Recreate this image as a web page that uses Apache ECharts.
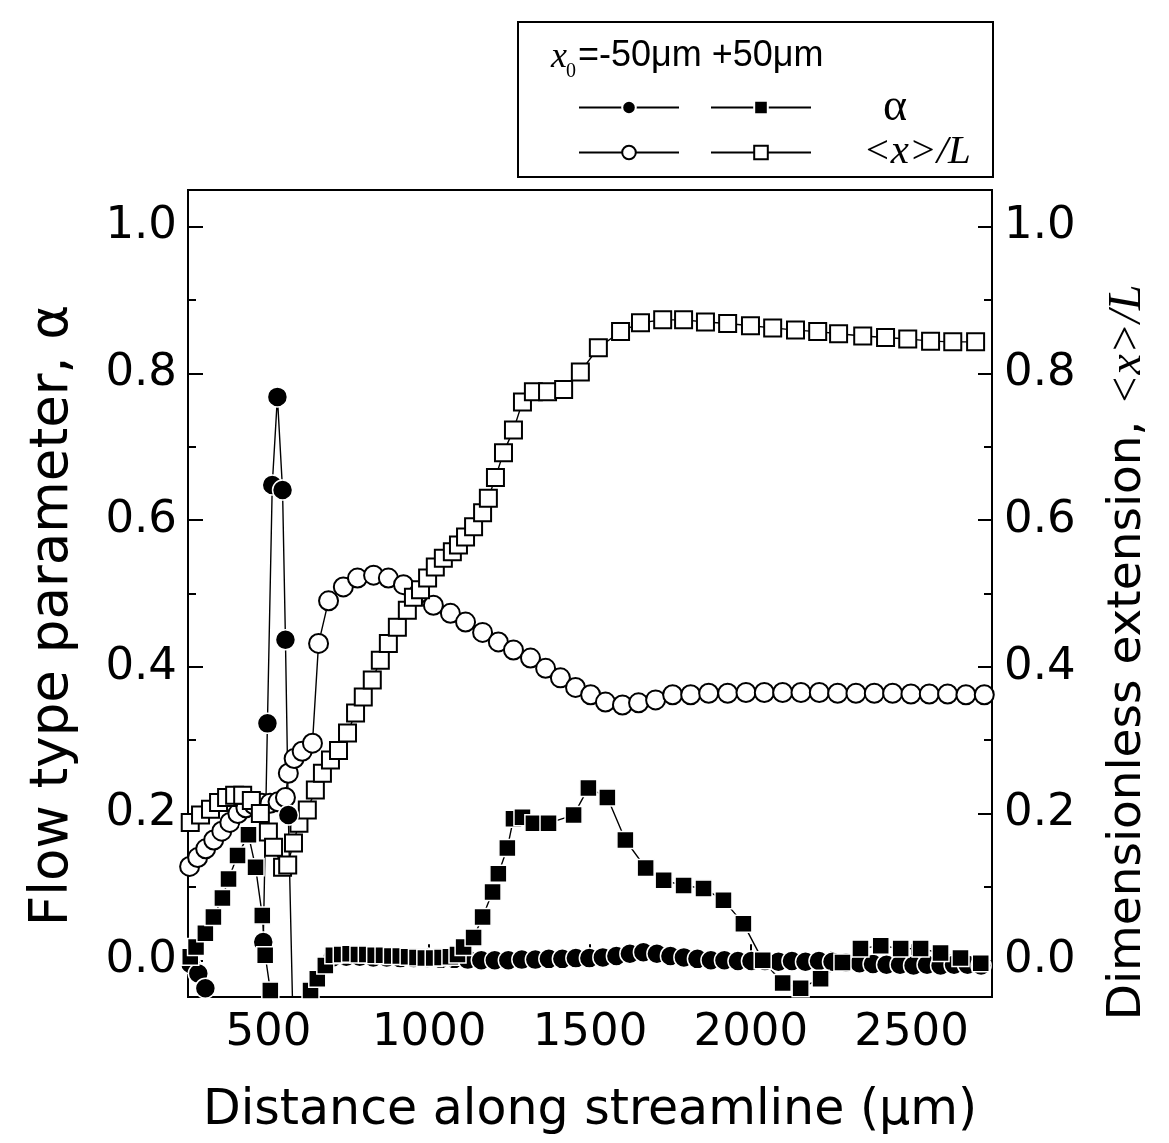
<!DOCTYPE html>
<html><head><meta charset="utf-8">
<script src="https://cdn.jsdelivr.net/npm/echarts@6/dist/echarts.min.js"></script>
<style>html,body{margin:0;padding:0;background:#fff}#c{width:1169px;height:1143px}</style>
</head><body><div id="c"></div>
<script>
// ---- tick positions ----
const xTicksMajor = [500, 1000, 1500, 2000, 2500];
const xTicksMinor = [750, 1250, 1750, 2250];
const yTicksMajor = [0, 0.2, 0.4, 0.6, 0.8, 1.0];
const yTicksMinor = [0.1, 0.3, 0.5, 0.7, 0.9];

// ---- x0 = -50 um, alpha (filled circles) ----
const fcX = [258, 282, 304, 400, 484, 497, 512, 528, 544, 553, 562, 590, 650,
  700, 742, 784, 826, 868, 910, 952, 994, 1036, 1078, 1120, 1162, 1204, 1246, 1288, 1330, 1372, 1414, 1456, 1498,
  1540, 1582, 1624, 1666, 1708, 1750, 1792, 1834, 1876, 1918, 1960, 2002, 2044, 2086, 2128, 2170, 2212, 2254,
  2296, 2338, 2380, 2422, 2464, 2506, 2548, 2590, 2632, 2674, 2716];
const fcY = [-0.005, -0.018, -0.038, null, 0.025, 0.323, 0.648, 0.768, 0.641, 0.437, 0.198, -0.35, null,
  0.004, 0.005, 0.005, 0.004, 0.004, 0.003, 0.003, 0.003, 0.002, 0.002, 0.001, 0.0, 0.0, 0.0, 0.001, 0.001, 0.002, 0.002, 0.003, 0.003,
  0.004, 0.006, 0.009, 0.011, 0.009, 0.006, 0.004, 0.002, 0.0, 0.0, -0.001, -0.001, -0.001, -0.002, -0.001, -0.002, -0.001, -0.002,
  -0.003, -0.004, -0.005, -0.006, -0.006, -0.007, -0.006, -0.007, -0.006, -0.006, -0.007];

// ---- x0 = +50 um, alpha (filled squares) ----
const fsX = [257, 275, 304, 329, 357, 376, 404, 438, 460, 481, 490, 506, 560,
  631, 652, 677, 702, 728, 754, 780, 806, 832, 858, 884, 910, 936, 962, 988, 1014, 1040, 1066, 1088,
  1107, 1138, 1166, 1197, 1215, 1243, 1262, 1290, 1324, 1371, 1449, 1495, 1554, 1610, 1673, 1729, 1791,
  1853, 1915, 1977, 2037, 2099, 2155, 2217, 2285, 2341, 2404, 2466, 2528, 2590, 2652, 2715];
const fsY = [0.005, 0.018, 0.037, 0.059, 0.085, 0.111, 0.143, 0.171, 0.127, 0.061, 0.007, -0.041, null,
  -0.041, -0.025, -0.007, 0.007, 0.008, 0.009, 0.008, 0.008, 0.007, 0.007, 0.006, 0.006, 0.005, 0.004, 0.003, 0.003, 0.004, 0.005, 0.008,
  0.018, 0.031, 0.059, 0.093, 0.118, 0.153, 0.193, 0.195, 0.187, 0.187, 0.198, 0.235, 0.222, 0.164, 0.126, 0.109, 0.102,
  0.098, 0.082, 0.050, 0.0, -0.031, -0.038, -0.025, -0.003, 0.016, 0.020, 0.016, 0.016, 0.010, 0.003, -0.004];

// ---- x0 = -50 um, <x>/L (open circles) ----
const ocX = [255, 280, 305, 330, 355, 380, 405, 430, 455, 480, 505, 530, 553, 562, 580, 605, 637, 656, 687, 733,
  777, 827, 873, 920, 967, 1013, 1066, 1113, 1166, 1215, 1262, 1315, 1362, 1408, 1455, 1502, 1548, 1601, 1651, 1704,
  1757, 1813, 1869, 1928, 1985, 2042, 2099, 2156, 2213, 2270, 2327, 2384, 2441, 2498, 2555, 2612, 2669, 2726];
const ocY = [0.128, 0.14, 0.152, 0.164, 0.176, 0.188, 0.2, 0.208, 0.212, 0.214, 0.214, 0.216, 0.222, 0.255, 0.275, 0.285, 0.296, 0.432, 0.49, 0.509,
  0.521, 0.525, 0.521, 0.512, 0.5, 0.484, 0.473, 0.461, 0.447, 0.434, 0.423, 0.412, 0.398, 0.385, 0.372, 0.362, 0.352, 0.348, 0.351, 0.355,
  0.362, 0.362, 0.364, 0.364, 0.365, 0.365, 0.365, 0.365, 0.365, 0.364, 0.364, 0.364, 0.364, 0.363, 0.363, 0.363, 0.362, 0.362];

// ---- x0 = +50 um, <x>/L (open squares) ----
const osX = [257, 289, 320, 345, 370, 395, 420, 447, 475, 500, 516, 544, 560, 578, 595, 621, 646, 668, 693, 718,
  746, 771, 795, 823, 848, 873, 901, 932, 951, 973, 995, 1019, 1044, 1072, 1091, 1113, 1138, 1166, 1184, 1206,
  1231, 1262, 1290, 1324, 1368, 1418, 1470, 1526, 1595, 1657, 1726, 1791, 1859, 1928, 1999, 2068, 2139, 2208, 2273, 2348,
  2419, 2488, 2559, 2628, 2699];
const osY = [0.188, 0.198, 0.206, 0.215, 0.222, 0.225, 0.225, 0.218, 0.2, 0.175, 0.154, 0.127, 0.13, 0.16, 0.187, 0.205, 0.232, 0.255, 0.273, 0.286,
  0.31, 0.337, 0.359, 0.382, 0.409, 0.432, 0.454, 0.477, 0.495, 0.505, 0.521, 0.536, 0.548, 0.557, 0.566, 0.577, 0.591, 0.61, 0.63, 0.658,
  0.692, 0.723, 0.761, 0.775, 0.775, 0.778, 0.802, 0.835, 0.857, 0.869, 0.873, 0.873, 0.870, 0.868, 0.865, 0.862, 0.859, 0.857, 0.854, 0.851,
  0.849, 0.847, 0.844, 0.843, 0.843];

const zip = (xs, ys) => xs.map((x, i) => [x, ys[i]]);

const BLACK = '#000';
const tickStyle = { color: BLACK, width: 2 };
const labelFont = { color: BLACK, fontSize: 45, fontFamily: 'DejaVu Sans' };

const chart = echarts.init(document.getElementById('c'), null, { renderer: 'canvas' });

const lineSeries = (name, xs, ys, symbol, size, filled, yAxisIndex) => ({
  name, type: 'line', xAxisIndex: 0, yAxisIndex,
  data: zip(xs, ys),
  symbol, symbolSize: size, showSymbol: true, showAllSymbol: true,
  connectNulls: false, animation: false, clip: true,
  lineStyle: { color: BLACK, width: 1.4 },
  itemStyle: filled
    ? { color: BLACK, borderColor: '#fff', borderWidth: 1.5 }
    : { color: '#fff', borderColor: BLACK, borderWidth: 2 },
  emphasis: { disabled: true }
});

const option = {
  backgroundColor: '#fff',
  animation: false,
  grid: { left: 188, right: 177, top: 190, bottom: 146, show: true, borderColor: BLACK, borderWidth: 2,
          containLabel: false, outerBoundsMode: 'none' },
  xAxis: [
    { type: 'value', min: 250, max: 2750, position: 'bottom',
      axisLine: { show: false }, splitLine: { show: false },
      axisTick: { inside: true, length: 16, lineStyle: tickStyle, customValues: xTicksMajor },
      axisLabel: Object.assign({ customValues: xTicksMajor, margin: 14, formatter: v => String(v) }, labelFont),
      name: 'Distance along streamline (μm)', nameLocation: 'middle', nameGap: 90,
      nameTextStyle: { color: BLACK, fontSize: 49, fontFamily: 'DejaVu Sans' } },
    { type: 'value', min: 250, max: 2750, position: 'bottom',
      axisLine: { show: false }, splitLine: { show: false }, axisLabel: { show: false },
      axisTick: { inside: true, length: 9, lineStyle: tickStyle, customValues: xTicksMinor } }
  ],
  yAxis: [
    { type: 'value', min: -0.05, max: 1.05, position: 'left',
      axisLine: { show: false }, splitLine: { show: false },
      axisTick: { inside: true, length: 15, lineStyle: tickStyle, customValues: yTicksMajor },
      axisLabel: Object.assign({ customValues: yTicksMajor, margin: 11, formatter: v => v.toFixed(1) }, labelFont),
      name: 'Flow type parameter, α', nameLocation: 'middle', nameGap: 108,
      nameTextStyle: { color: BLACK, fontSize: 53, fontFamily: 'DejaVu Sans', padding: [0, 44, 0, 0] } },
    { type: 'value', min: -0.05, max: 1.05, position: 'left',
      axisLine: { show: false }, splitLine: { show: false }, axisLabel: { show: false },
      axisTick: { inside: true, length: 8, lineStyle: tickStyle, customValues: yTicksMinor } },
    { type: 'value', min: -0.05, max: 1.05, position: 'right',
      axisLine: { show: false }, splitLine: { show: false },
      axisTick: { inside: true, length: 14, lineStyle: tickStyle, customValues: yTicksMajor },
      axisLabel: Object.assign({ customValues: yTicksMajor, margin: 12, formatter: v => v.toFixed(1) }, labelFont),
      name: '{a|Dimensionless extension, }{b|<x>/L}', nameLocation: 'middle', nameGap: 112,
      nameTextStyle: { color: BLACK, padding: [0, 118, 0, 0],
        rich: {
          a: { fontSize: 47, fontFamily: '"DejaVu Sans"', color: BLACK },
          b: { fontSize: 46, fontFamily: '"Liberation Serif", serif', fontStyle: 'italic', color: BLACK }
        } } },
    { type: 'value', min: -0.05, max: 1.05, position: 'right',
      axisLine: { show: false }, splitLine: { show: false }, axisLabel: { show: false },
      axisTick: { inside: true, length: 8, lineStyle: tickStyle, customValues: yTicksMinor } }
  ],
  legend: [
    { data: ['α, x0=-50μm', 'α, x0=+50μm'], left: 578, top: 99, orient: 'horizontal',
      itemWidth: 100, itemHeight: 17, itemGap: 30, padding: 0, selectedMode: false,
      formatter: () => '', z: 10 },
    { data: ['<x>/L, x0=-50μm', '<x>/L, x0=+50μm'], left: 578, top: 144, orient: 'horizontal',
      itemWidth: 100, itemHeight: 17, itemGap: 30, padding: 0, selectedMode: false,
      formatter: () => '', z: 10 }
  ],
  graphic: [
    { type: 'rect', shape: { x: 518, y: 22, width: 475, height: 155 }, z: 1,
      style: { fill: '#fff', stroke: BLACK, lineWidth: 2 } },
    { type: 'text', z: 5, style: { text: 'x', x: 551, y: 58, font: 'italic 36px "Liberation Serif"', fill: BLACK, textVerticalAlign: 'middle' } },
    { type: 'text', z: 5, style: { text: '0', x: 566, y: 72, font: '20px "Liberation Serif"', fill: BLACK, textVerticalAlign: 'middle' } },
    { type: 'text', z: 5, style: { text: '=-50μm +50μm', x: 578, y: 56, font: '36px "Liberation Sans"', fill: BLACK, textVerticalAlign: 'middle' } },
    { type: 'text', z: 5, style: { text: 'α', x: 895, y: 108, font: '46px "Liberation Serif"', fill: BLACK, textAlign: 'center', textVerticalAlign: 'middle' } },
    { type: 'text', z: 5, style: { text: '<x>/L', x: 917, y: 152, font: 'italic 41px "Liberation Serif"', fill: BLACK, textAlign: 'center', textVerticalAlign: 'middle' } }
  ],
  series: [
    lineSeries('<x>/L, x0=-50μm', ocX, ocY, 'circle', 19, false, 2),
    lineSeries('<x>/L, x0=+50μm', osX, osY, 'rect', 17, false, 2),
    lineSeries('α, x0=-50μm', fcX, fcY, 'circle', 20, true, 0),
    lineSeries('α, x0=+50μm', fsX, fsY, 'rect', 17, true, 0)
  ]
};
chart.setOption(option);
</script>
</body></html>
